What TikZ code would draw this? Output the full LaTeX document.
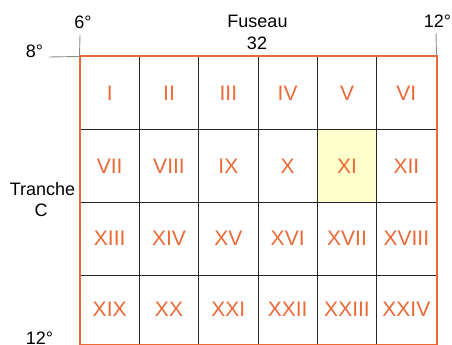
\documentclass[tikz,border=0pt]{standalone}
\usepackage{fontspec}
\setmainfont{Liberation Sans}
\definecolor{ora}{RGB}{236,104,52}
\definecolor{hl}{RGB}{255,255,204}
\begin{document}
\begin{tikzpicture}[x=1pt,y=-1pt,
  cell/.style={draw=black!85, line width=1pt, minimum width=59.33pt, minimum height=72.67pt,
    inner sep=0pt, text=ora, font=\fontsize{21}{21}\selectfont},
  lastrow/.style={minimum height=69pt},
  lbl/.style={font=\fontsize{18}{18}\selectfont, anchor=base, inner sep=0pt},
  tick/.style={draw=black!45, line width=0.9pt},
  frame/.style={draw=ora, line width=2pt}]
\useasboundingbox (0,0) rectangle (452,345);
\foreach \t [count=\c] in {I,II,III,IV,V,VI}
  \node[cell] (a\c) at ({80+59.333*(\c-0.5)},93.33) {\t};
\foreach \t/\f [count=\c] in {VII/white,VIII/white,IX/white,X/white,XI/hl,XII/white}
  \node[cell,fill=\f] (b\c) at ({80+59.333*(\c-0.5)},166) {\t};
\foreach \t [count=\c] in {XIII,XIV,XV,XVI,XVII,XVIII}
  \node[cell] (c\c) at ({80+59.333*(\c-0.5)},238.67) {\t};
\foreach \t [count=\c] in {XIX,XX,XXI,XXII,XXIII,XXIV}
  \node[cell,lastrow] (d\c) at ({80+59.333*(\c-0.5)},309.5) {\t};
\draw[frame] (a1.north west) rectangle (d6.south east);
\coordinate (t6) at (80,35);
\coordinate (t8) at (49,57);
\coordinate (t12) at (436,33);
\draw[tick] (a1.north west) -- (t6);
\draw[tick] (a1.north west) -- (t8);
\draw[tick] (a6.north east) -- (t12);
\node[lbl] (l6) at (83,29) {6°};
\node[lbl] (l8) at (34.5,57) {8°};
\node[lbl] (l12) at (437.5,28) {12°};
\node[lbl] (fus) at (257.5,28) {Fuseau};
\node[lbl] (n32) at (257,50) {32};
\node[lbl] (tr) at (42.5,195) {Tranche};
\node[lbl] (trc) at (41,216.7) {C};
\node[lbl] (l12b) at (39.5,344) {12°};
\end{tikzpicture}
\end{document}
